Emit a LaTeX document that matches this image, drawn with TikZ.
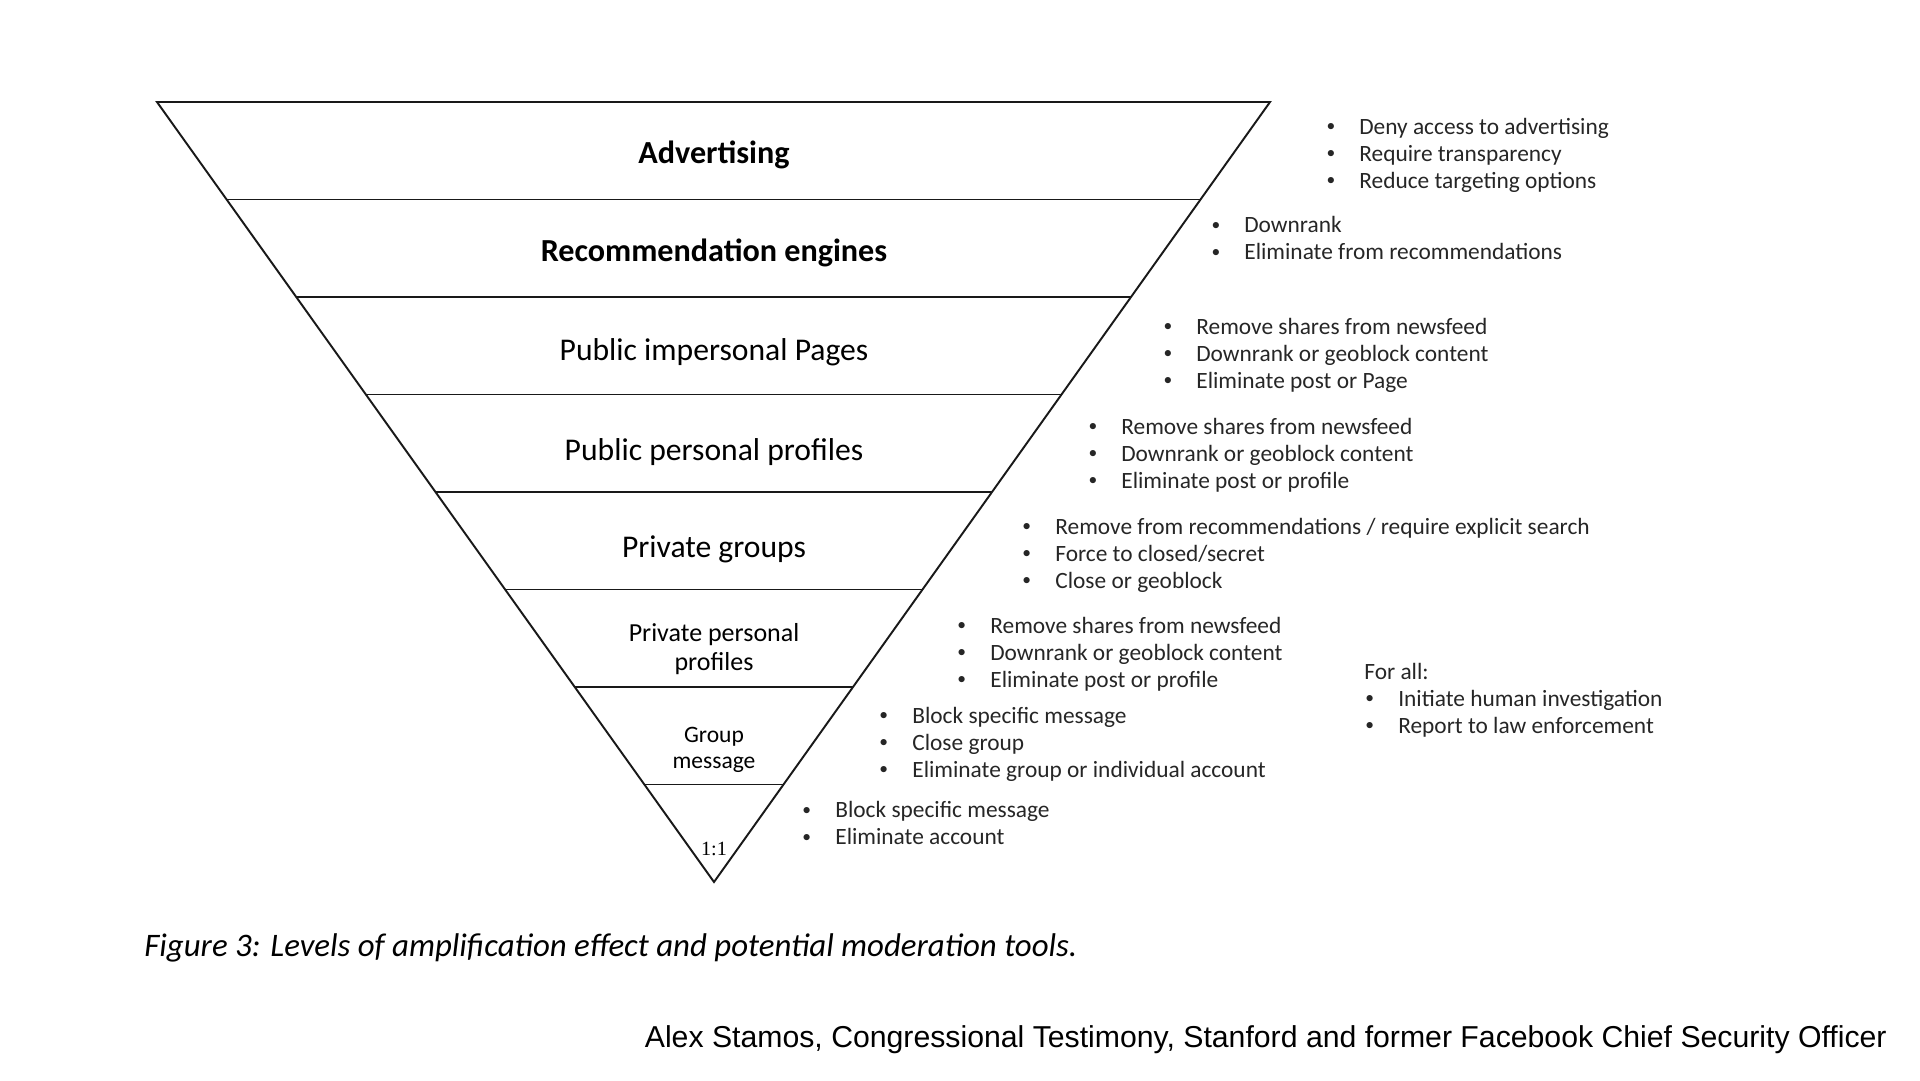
\documentclass[tikz,border=0pt]{standalone}
\usepackage{fontspec}
\setmainfont{Carlito}
\newfontfamily\arialfont{Liberation Sans}
\newfontfamily\numfont{Liberation Serif}
\usetikzlibrary{calc}
\newcommand{\bitem}[1]{\makebox[16.5pt][l]{\hspace{-2.2pt}\raisebox{0.1em}{\scalebox{0.75}{\textbullet}}}#1}
\tikzset{
	funnel/.style = {line width=1.1pt, draw=black!90},
	layer/.style = {font=\fontsize{18}{21}\selectfont, align=center, inner sep=0pt},
	tools/.style = {anchor=west, align=left, inner sep=0pt, text=black!85,
		font=\fontsize{13.3}{15.4}\selectfont},
}
\begin{document}
\begin{tikzpicture}[x=0.02cm,y=-0.02cm]
	\useasboundingbox (0,0) rectangle (1920,1080);
	% funnel outline
	\coordinate (TL) at (157,102);
	\coordinate (TR) at (1270,102);
	\coordinate (AP) at (714,882);
	\draw[funnel, line join=miter] (TL) -- (TR) -- (AP) -- cycle;
	\foreach \k in {1,...,7}
		\draw[funnel] ($(TL)!\k/8!(AP)$) -- ($(TR)!\k/8!(AP)$);
	% levels
	\node (ads)   at (714,155) [layer, font=\fontsize{18.3}{21}\selectfont\bfseries]	{Advertising};
	\node (rec)   at (714,253) [layer, font=\fontsize{18.3}{21}\selectfont\bfseries]	{Recommendation engines};
	\node (pages) at (714,352) [layer]	{Public impersonal Pages};
	\node (pubpr) at (714,452) [layer]	{Public personal profiles};
	\node (grps)  at (714,549) [layer]	{Private groups};
	\node (privp) at (714,649) [layer, font=\fontsize{14.8}{16}\selectfont]	{Private personal\\profiles};
	\node (gmsg)  at (714,750) [layer, font=\fontsize{13.4}{14.6}\selectfont]	{Group\\message};
	\node (one)   at (714,849) [layer, font=\numfont\fontsize{11.5}{13}\selectfont]	{1:1};
	% moderation tools
	\node (t-ads)   at (1330,155) [tools]	{\bitem{Deny access to advertising}\\\bitem{Require transparency}\\\bitem{Reduce targeting options}};
	\node (t-rec)   at (1215,238) [tools]	{\bitem{Downrank}\\\bitem{Eliminate from recommendations}};
	\node (t-pages) at (1167,355) [tools]	{\bitem{Remove shares from newsfeed}\\\bitem{Downrank or geoblock content}\\\bitem{Eliminate post or Page}};
	\node (t-pubpr) at (1092,455) [tools]	{\bitem{Remove shares from newsfeed}\\\bitem{Downrank or geoblock content}\\\bitem{Eliminate post or profile}};
	\node (t-grps)  at (1026,555) [tools]	{\bitem{Remove from recommendations / require explicit search}\\\bitem{Force to closed/secret}\\\bitem{Close or geoblock}};
	\node (t-privp) at (961,654)  [tools]	{\bitem{Remove shares from newsfeed}\\\bitem{Downrank or geoblock content}\\\bitem{Eliminate post or profile}};
	\node (t-gmsg)  at (883,744)  [tools]	{\bitem{Block specific message}\\\bitem{Close group}\\\bitem{Eliminate group or individual account}};
	\node (t-one)   at (806,823)  [tools]	{\bitem{Block specific message}\\\bitem{Eliminate account}};
	\node (t-all)   at (1364,700) [tools]	{For all:\\\hspace*{2.8pt}\bitem{Initiate human investigation}\\\hspace*{2.8pt}\bitem{Report to law enforcement}};
	% caption and credit
	\node (cap)    at (144,948) [anchor=west, inner sep=0pt, font=\fontsize{18.7}{22}\selectfont\itshape]	{Figure 3: Levels of amplification effect and potential moderation tools.};
	\node (credit) at (1887,1040) [anchor=east, inner sep=0pt, font=\arialfont\fontsize{17.2}{20}\selectfont]	{Alex Stamos, Congressional Testimony, Stanford and former Facebook Chief Security Officer};
\end{tikzpicture}
\end{document}
